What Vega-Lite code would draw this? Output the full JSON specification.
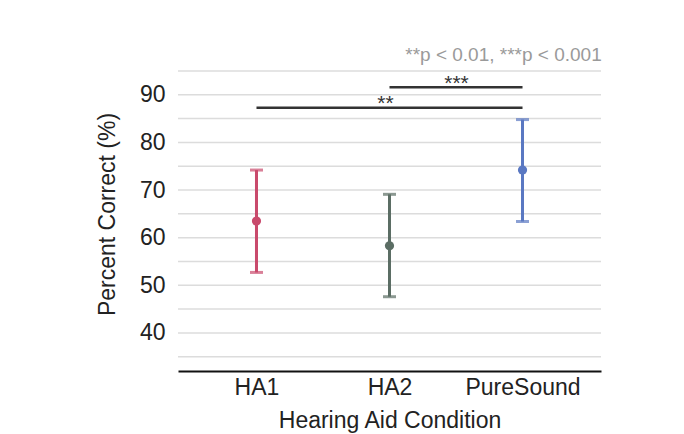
{
  "$schema": "https://vega.github.io/schema/vega-lite/v6.json",
  "width": 423,
  "height": 300,
  "autosize": "none",
  "padding": {"left": 178, "top": 71, "right": 83, "bottom": 63},
  "background": "white",
  "config": {
    "font": "Liberation Sans",
    "view": {"stroke": null}
  },
  "title": {
    "text": "**p < 0.01, ***p < 0.001",
    "anchor": "end",
    "fontSize": 19,
    "fontWeight": "normal",
    "color": "#9a9a9a",
    "offset": 5
  },
  "datasets": {
    "grid": [
      {"g": 35}, {"g": 40}, {"g": 45}, {"g": 50}, {"g": 55}, {"g": 60}, {"g": 65},
      {"g": 70}, {"g": 75}, {"g": 80}, {"g": 85}, {"g": 90}, {"g": 95}
    ],
    "stats": [
      {"condition": "HA1", "mean": 63.5, "low": 52.7, "high": 74.2},
      {"condition": "HA2", "mean": 58.3, "low": 47.6, "high": 69.1},
      {"condition": "PureSound", "mean": 74.2, "low": 63.4, "high": 84.8}
    ],
    "sig": [
      {"from": "HA1", "to": "PureSound", "y": 87.3, "label": "**", "tx": "HA2", "ly": 88.0},
      {"from": "HA2", "to": "PureSound", "y": 91.6, "label": "***", "tx": "PureSound", "ly": 92.3}
    ]
  },
  "layer": [
    {
      "data": {"name": "grid"},
      "mark": {"type": "rule", "strokeWidth": 1.5, "color": "#dcdcdc"},
      "encoding": {
        "y": {
          "field": "g", "type": "quantitative",
          "scale": {"domain": [32, 95], "nice": false, "zero": false},
          "axis": {
            "title": "Percent Correct (%)",
            "titleFontSize": 23, "titleFontWeight": "normal", "titleColor": "#222",
            "titlePadding": 20, "titleY": 143,
            "values": [40, 50, 60, 70, 80, 90],
            "labelOverlap": false,
            "labelFontSize": 23, "labelColor": "#222", "labelPadding": 13,
            "domain": false, "ticks": false, "grid": false
          }
        }
      }
    },
    {
      "data": {"name": "stats"},
      "mark": {"type": "rule", "strokeWidth": 3},
      "encoding": {
        "x": {
          "field": "condition", "type": "nominal",
          "scale": {"type": "point", "padding": 0.59, "domain": ["HA1", "HA2", "PureSound"]},
          "axis": {
            "title": "Hearing Aid Condition",
            "titleFontSize": 23, "titleFontWeight": "normal", "titleColor": "#222",
            "titlePadding": 10,
            "labelFontSize": 23, "labelColor": "#222", "labelPadding": 5, "labelAngle": 0,
            "domainColor": "#111", "domainWidth": 2, "ticks": false, "grid": false
          }
        },
        "y": {"field": "low", "type": "quantitative"},
        "y2": {"field": "high"},
        "color": {
          "field": "condition", "type": "nominal",
          "scale": {"domain": ["HA1", "HA2", "PureSound"], "range": ["#c94a6c", "#5b6d64", "#5a78c2"]},
          "legend": null
        }
      }
    },
    {
      "data": {"name": "stats"},
      "mark": {"type": "tick", "thickness": 3, "size": 13, "orient": "horizontal"},
      "encoding": {
        "x": {"field": "condition", "type": "nominal"},
        "y": {"field": "low", "type": "quantitative"},
        "color": {"field": "condition", "type": "nominal", "legend": null}
      }
    },
    {
      "data": {"name": "stats"},
      "mark": {"type": "tick", "thickness": 3, "size": 13, "orient": "horizontal"},
      "encoding": {
        "x": {"field": "condition", "type": "nominal"},
        "y": {"field": "high", "type": "quantitative"},
        "color": {"field": "condition", "type": "nominal", "legend": null}
      }
    },
    {
      "data": {"name": "stats"},
      "mark": {"type": "point", "filled": true, "size": 85, "opacity": 1},
      "encoding": {
        "x": {"field": "condition", "type": "nominal"},
        "y": {"field": "mean", "type": "quantitative"},
        "color": {"field": "condition", "type": "nominal", "legend": null}
      }
    },
    {
      "data": {"name": "sig"},
      "mark": {"type": "rule", "strokeWidth": 2.5, "color": "#333"},
      "encoding": {
        "x": {"field": "from", "type": "nominal"},
        "x2": {"field": "to"},
        "y": {"field": "y", "type": "quantitative"}
      }
    },
    {
      "data": {"name": "sig"},
      "transform": [{"filter": "datum.label == '**'"}],
      "mark": {"type": "text", "fontSize": 21, "color": "#333", "baseline": "middle", "dx": -4},
      "encoding": {
        "x": {"field": "tx", "type": "nominal"},
        "y": {"field": "ly", "type": "quantitative"},
        "text": {"field": "label"}
      }
    },
    {
      "data": {"name": "sig"},
      "transform": [{"filter": "datum.label == '***'"}],
      "mark": {"type": "text", "fontSize": 21, "color": "#333", "baseline": "middle", "dx": -66},
      "encoding": {
        "x": {"field": "tx", "type": "nominal"},
        "y": {"field": "ly", "type": "quantitative"},
        "text": {"field": "label"}
      }
    }
  ]
}
